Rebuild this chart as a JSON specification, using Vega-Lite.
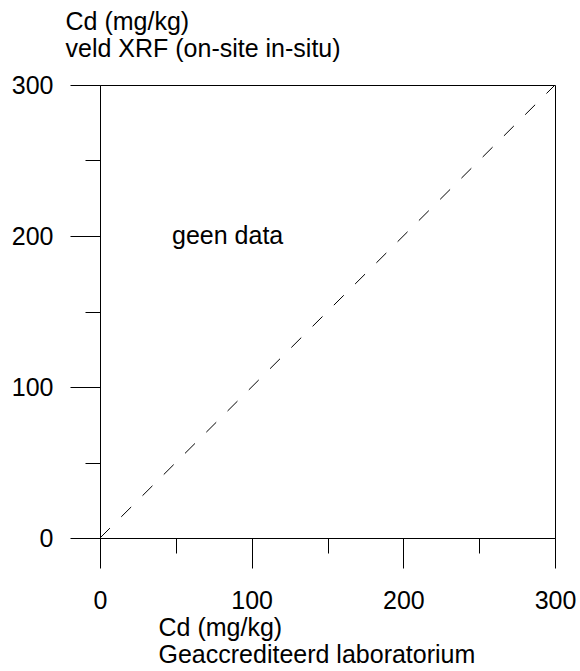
{
  "$schema": "https://vega.github.io/schema/vega-lite/v6.json",
  "width": 455,
  "height": 453,
  "autosize": {"type": "none"},
  "padding": {"left": 100, "top": 85, "right": 25, "bottom": 133},
  "background": "white",
  "config": {
    "view": {"stroke": "black", "strokeWidth": 1},
    "font": "Liberation Sans",
    "axis": {
      "domainColor": "black",
      "tickColor": "black",
      "labelColor": "black",
      "titleColor": "black",
      "labelFont": "Liberation Sans",
      "titleFont": "Liberation Sans",
      "labelFontSize": 25,
      "titleFontSize": 25,
      "titleFontWeight": "normal",
      "grid": false
    }
  },
  "layer": [
    {
      "data": {"values": [{"lab": 0, "xrf": 0}, {"lab": 300, "xrf": 300}]},
      "mark": {"type": "line", "color": "black", "strokeWidth": 1, "strokeDash": [14, 16]},
      "encoding": {
        "x": {
          "field": "lab", "type": "quantitative",
          "scale": {"domain": [0, 300], "nice": false, "zero": false},
          "axis": {
            "values": [0, 50, 100, 150, 200, 250, 300],
            "tickSize": {"condition": {"test": "datum.value % 100 === 0", "value": 30}, "value": 15},
            "labelExpr": "datum.value % 100 === 0 ? datum.label : ''",
            "labelPadding": 20,
            "labelFlush": false,
            "labelOverlap": false,
            "title": ["Cd (mg/kg)", "Geaccrediteerd laboratorium"],
            "titleAlign": "left",
            "titleAnchor": "start",
            "titleBaseline": "alphabetic",
            "titleLineHeight": 27,
            "titleX": 58,
            "titleY": 97
          }
        },
        "y": {
          "field": "xrf", "type": "quantitative",
          "scale": {"domain": [0, 300], "nice": false, "zero": false},
          "axis": {
            "values": [0, 50, 100, 150, 200, 250, 300],
            "tickSize": {"condition": {"test": "datum.value % 100 === 0", "value": 30}, "value": 15},
            "labelExpr": "datum.value % 100 === 0 ? datum.label : ''",
            "labelPadding": 17,
            "labelFlush": false,
            "labelOverlap": false,
            "title": ["Cd (mg/kg)", "veld XRF (on-site in-situ)"],
            "titleAngle": 0,
            "titleAlign": "left",
            "titleAnchor": "start",
            "titleBaseline": "alphabetic",
            "titleLineHeight": 27,
            "titleX": -35,
            "titleY": -56
          }
        }
      }
    },
    {
      "data": {"values": [{"lab": 47.5, "xrf": 200, "note": "geen data"}]},
      "mark": {"type": "text", "align": "left", "baseline": "middle", "fontSize": 25, "font": "Liberation Sans", "color": "black"},
      "encoding": {
        "x": {"field": "lab", "type": "quantitative"},
        "y": {"field": "xrf", "type": "quantitative"},
        "text": {"field": "note"}
      }
    }
  ]
}
